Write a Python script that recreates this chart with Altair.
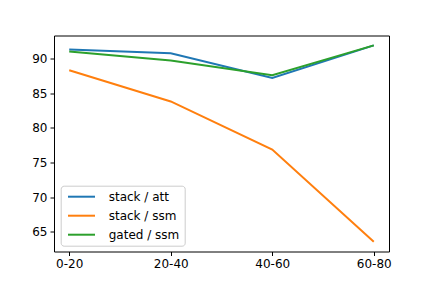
import altair as alt
import pandas as pd

categories = ["0-20", "20-40", "40-60", "60-80"]
series_names = ["stack / att", "stack / ssm", "gated / ssm"]
stack_att = [91.3, 90.75, 87.2, 91.9]
stack_ssm = [88.3, 83.8, 76.85, 63.55]
gated_ssm = [91.0, 89.7, 87.6, 91.9]
colors = ["#1f77b4", "#ff7f0e", "#2ca02c"]
y_ticks = [65, 70, 75, 80, 85, 90]

rows = []
for name, vals in zip(series_names, [stack_att, stack_ssm, gated_ssm]):
    for c, v in zip(categories, vals):
        rows.append({"bin": c, "value": v, "series": name})
df = pd.DataFrame(rows)

font = "DejaVu Sans"

chart = alt.Chart(df).mark_line(strokeWidth=2).encode(
    x=alt.X("bin:N", sort=categories,
            scale=alt.Scale(type="point", padding=0.15),
            axis=alt.Axis(title=None, labelAngle=0, grid=False, domain=False,
                          tickColor="black", tickSize=4, labelPadding=3,
                          labelColor="black", labelFontSize=12, labelFont=font)),
    y=alt.Y("value:Q", scale=alt.Scale(domain=[62.15, 93.32], nice=False, zero=False),
            axis=alt.Axis(title=None, values=y_ticks, grid=False, domain=False,
                          tickColor="black", tickSize=4, labelPadding=3,
                          labelColor="black", labelFontSize=12, labelFont=font)),
    color=alt.Color("series:N", sort=series_names,
                    scale=alt.Scale(domain=series_names, range=colors),
                    legend=alt.Legend(title=None, orient="none", legendX=6.7, legendY=150.2,
                                      symbolType="M-1.85,0H11.65", symbolSize=16,
                                      symbolStrokeWidth=2, labelFontSize=12,
                                      labelFont=font, labelColor="black",
                                      labelOffset=31, rowPadding=7, padding=5,
                                      fillColor="rgba(255,255,255,0.8)",
                                      strokeColor="#cccccc", cornerRadius=3)),
).properties(
    width=335, height=216,
    autosize=alt.AutoSizeParams(type="none"),
    padding={"left": 46, "top": 27.5, "right": 35, "bottom": 28.5},
).configure_view(stroke="black", strokeWidth=1)

chart.save("out.html", embed_options={"renderer": "svg", "actions": False})
